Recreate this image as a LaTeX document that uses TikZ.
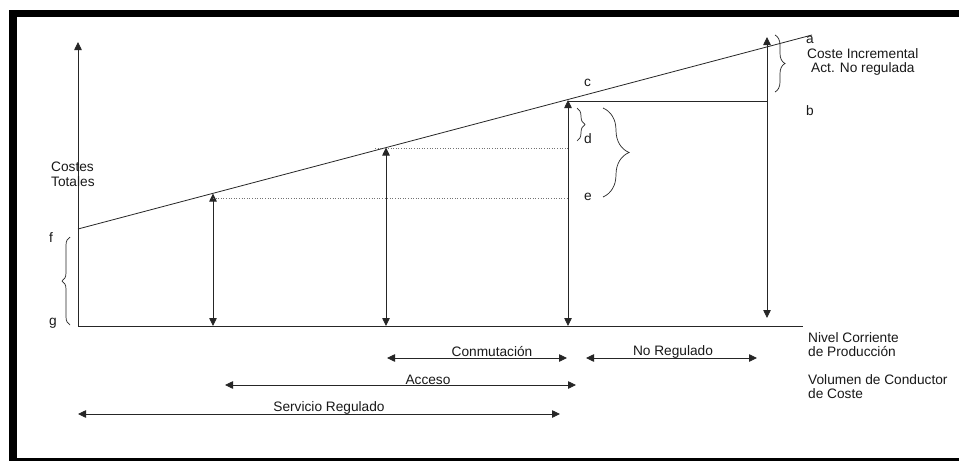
\documentclass[tikz,border=0pt]{standalone}
\usepackage{fontspec}
\setmainfont{Liberation Sans}
\usetikzlibrary{arrows.meta,decorations.pathreplacing}
\begin{document}
\begin{tikzpicture}[x=1pt,y=-1pt,
  ln/.style={line width=0.8pt,draw=black!85},
  dbl/.style={ln,{Triangle[length=8pt,width=7.5pt]}-{Triangle[length=8pt,width=7.5pt]}},
  upar/.style={ln,-{Triangle[length=8pt,width=7.5pt]}},
  dots/.style={line width=0.6pt,draw=black!55,dotted},
  brc/.style={line width=0.7pt,draw=black!85,decorate,decoration={brace,amplitude=#1}},
  lbl/.style={inner sep=0pt,font=\fontsize{13.7}{15}\selectfont,text=black!90}]
\useasboundingbox (0,0) rectangle (959,461);
\fill[black] (9,10) rectangle (959,461);
\fill[white] (17,17) rectangle (959,458);
% key points
\coordinate (O) at (78,326);
\coordinate (Ytop) at (78,42);
\coordinate (Xend) at (803,326);
\coordinate (L0) at (78,229);
\coordinate (L1) at (812,35);
\coordinate (P1) at (213,193.5);
\coordinate (P1b) at (213,326);
\coordinate (P2) at (386,147.5);
\coordinate (P2b) at (386,326);
\coordinate (P3) at (568,100);
\coordinate (P3b) at (568,326);
\coordinate (P4) at (767,37);
\coordinate (P4b) at (767,318);
\coordinate (B) at (767,101.5);
\coordinate (D1a) at (375,148);
\coordinate (D1b) at (568,148);
\coordinate (D2a) at (213,198.5);
\coordinate (D2b) at (568,198.5);
% axes
\draw[upar] (O) -- (Ytop);
\draw[ln] (O) -- (Xend);
% cost line
\draw[ln] (L0) -- (L1);
% vertical arrows
\draw[dbl] (P1b) -- (P1);
\draw[dbl] (P2b) -- (P2);
\draw[dbl] (P3b) -- (P3);
\draw[dbl] (P4b) -- (P4);
% horizontal c-b
\draw[ln] (P3) ++(0,1.5) -- (B);
% dotted
\draw[dots] (D1a) -- (D1b);
\draw[dots] (D2a) -- (D2b);
% braces
\coordinate (Ba1) at (775,35); \coordinate (Ba2) at (775,92);
\draw[brc=10pt] (Ba1) -- (Ba2);
\coordinate (Bd1) at (577,108); \coordinate (Bd2) at (577,141);
\draw[brc=8pt] (Bd1) -- (Bd2);
\coordinate (Be1) at (603,108); \coordinate (Be2) at (603,197);
\draw[brc=26pt] (Be1) -- (Be2);
\coordinate (Bf1) at (70,325); \coordinate (Bf2) at (70,237);
\draw[brc=8pt] (Bf1) -- (Bf2);
% labels
\node[lbl,anchor=west] (la) at (806,40) {a};
\node[lbl,anchor=west] (lci) at (807,53.5) {Coste Incremental};
\node[lbl,anchor=west] (lan) at (811,68.5) {Act. No regulada};
\node[lbl,anchor=west] (lb) at (806,111) {b};
\node[lbl,anchor=west] (lc) at (584,83) {c};
\node[lbl,anchor=west] (ld) at (584,139) {d};
\node[lbl,anchor=west] (le) at (584,197) {e};
\node[lbl,anchor=west] (lf) at (49,238) {f};
\node[lbl,anchor=west] (lg) at (49,323) {g};
\node[lbl,anchor=west] (lcost) at (51,167) {Costes};
\node[lbl,anchor=west] (ltot) at (51,182) {Totales};
\node[lbl,anchor=west] (lniv) at (808,338) {Nivel Corriente};
\node[lbl,anchor=west] (lprod) at (808,352) {de Producción};
\node[lbl,anchor=west] (lvol) at (808,380) {Volumen de Conductor};
\node[lbl,anchor=west] (lcos) at (808,394) {de Coste};
% bottom ranges
\coordinate (C1) at (387,358); \coordinate (C2) at (567,358);
\draw[dbl] (C1) -- (C2);
\node[lbl] (lcon) at (492,351.5) {Conmutación};
\coordinate (N1) at (586,358); \coordinate (N2) at (757,358);
\draw[dbl] (N1) -- (N2);
\node[lbl] (lnr) at (673,351.5) {No Regulado};
\coordinate (A1) at (225,385); \coordinate (A2) at (576,385);
\draw[dbl] (A1) -- (A2);
\node[lbl] (lacc) at (428,379.5) {Acceso};
\coordinate (S1) at (78,414); \coordinate (S2) at (560,414);
\draw[dbl] (S1) -- (S2);
\node[lbl] (lsr) at (329,408) {Servicio Regulado};
\end{tikzpicture}
\end{document}
